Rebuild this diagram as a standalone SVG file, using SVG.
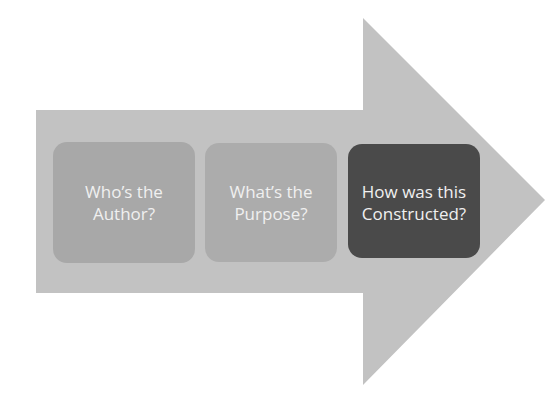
<svg xmlns="http://www.w3.org/2000/svg" width="546" height="411" viewBox="0 0 546 411">
<style>
.box{stroke:none}
.lbl{font-family:"Open Sans","Noto Sans",sans-serif;font-size:17px;fill:#f0f0f0;text-anchor:middle}
</style>
<rect width="546" height="411" fill="#ffffff"/>
<g id="arrow">
<path d="M36,110 H363 V18 L545,200 L363,385 V293 H36 Z" fill="#c2c2c2"/>
</g>
<g id="node1">
<rect class="box" x="53" y="142" width="142" height="121" rx="14" fill="#a8a8a8"/>
<text class="lbl" x="124" y="198">Who’s the</text>
<text class="lbl" x="124" y="220">Author?</text>
</g>
<g id="node2">
<rect class="box" x="205" y="143" width="132" height="119" rx="14" fill="#acacac"/>
<text class="lbl" x="271" y="198">What’s the</text>
<text class="lbl" x="271" y="220">Purpose?</text>
</g>
<g id="node3">
<rect class="box" x="348" y="144" width="132" height="114" rx="14" fill="#4a4a4a"/>
<text class="lbl" x="414" y="198">How was this</text>
<text class="lbl" x="414" y="220">Constructed?</text>
</g>
<g id="connectors"></g>
</svg>
